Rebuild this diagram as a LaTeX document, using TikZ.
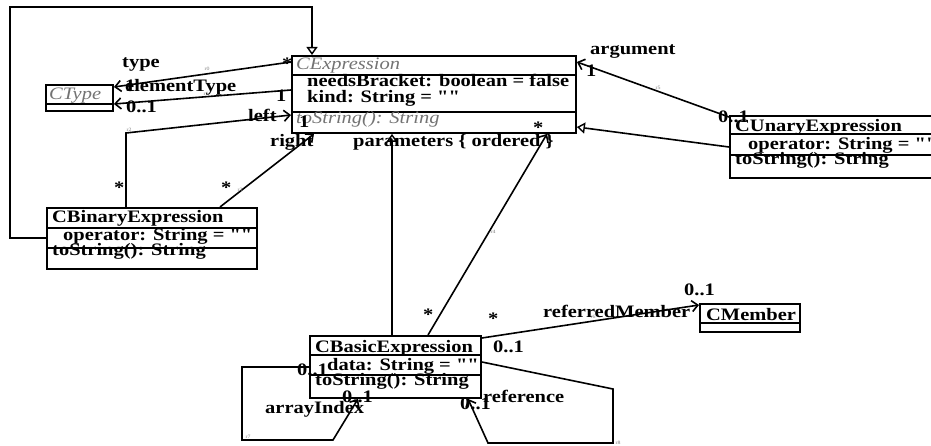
\documentclass[tikz,border=0pt]{standalone}
\usepackage{fontspec}
\setmainfont{Liberation Serif}[Ligatures=TeXOff, FakeStretch=1.17]
\usetikzlibrary{arrows.meta}

\begin{document}
\begin{tikzpicture}[x=1pt,y=-1pt,
  classbox/.style={draw, line width=1.9pt, inner sep=0pt, anchor=north west},
  sep/.style={line width=1.6pt},
  lbl/.style={anchor=base west, inner sep=0pt, font=\fontsize{17.5}{19}\selectfont\bfseries},
  abstr/.style={anchor=base west, inner sep=0pt, text=black!55, font=\fontsize{17.5}{19}\selectfont\itshape},
  tag/.style={anchor=center, inner sep=0pt, text=black!50, font=\fontsize{5}{6}\selectfont},
  assoc/.style={line width=1.6pt, -{Straight Barb[length=6pt,width=11pt,line width=1.6pt]}},
  inherit/.style={line width=1.6pt, -{Triangle[open,length=8pt,width=11pt,line width=1.4pt]}}]
\useasboundingbox (0,0) rectangle (931,446);

% ---- classes ----
\node[classbox, minimum width=284pt, minimum height=77pt] (cexp) at (291,55) {};
\draw[sep] ([yshift=-20pt]cexp.north west) -- ([yshift=-20pt]cexp.north east);
\draw[sep] ([yshift=-57pt]cexp.north west) -- ([yshift=-57pt]cexp.north east);
\node[abstr] (cexp-name) at (296,70) {CExpression};
\node[lbl] (cexp-a1) at (307,87) {needsBracket: boolean = false};
\node[lbl] (cexp-a2) at (307,103) {kind: String = ""};
\node[abstr] (cexp-m1) at (296,124) {toString(): String};

\node[classbox, minimum width=67pt, minimum height=26pt] (ctype) at (45,84) {};
\draw[sep] ([yshift=-20pt]ctype.north west) -- ([yshift=-20pt]ctype.north east);
\node[abstr] (ctype-name) at (49,100) {CType};

\node[classbox, minimum width=205pt, minimum height=62pt] (cun) at (729,115) {};
\draw[sep] ([yshift=-19pt]cun.north west) -- ([yshift=-19pt]cun.north east);
\draw[sep] ([yshift=-40pt]cun.north west) -- ([yshift=-40pt]cun.north east);
\node[lbl] (cun-name) at (735,132) {CUnaryExpression};
\node[lbl] (cun-a1) at (748,150) {operator: String = ""};
\node[lbl] (cun-m1) at (735,165) {toString(): String};

\node[classbox, minimum width=210pt, minimum height=61pt] (cbin) at (46,207) {};
\draw[sep] ([yshift=-21pt]cbin.north west) -- ([yshift=-21pt]cbin.north east);
\draw[sep] ([yshift=-41pt]cbin.north west) -- ([yshift=-41pt]cbin.north east);
\node[lbl] (cbin-name) at (52,223) {CBinaryExpression};
\node[lbl] (cbin-a1) at (63,241) {operator: String = ""};
\node[lbl] (cbin-m1) at (52,256) {toString(): String};

\node[classbox, minimum width=171pt, minimum height=62pt] (cbas) at (309,335) {};
\draw[sep] ([yshift=-20pt]cbas.north west) -- ([yshift=-20pt]cbas.north east);
\draw[sep] ([yshift=-40pt]cbas.north west) -- ([yshift=-40pt]cbas.north east);
\node[lbl] (cbas-name) at (315,352) {CBasicExpression};
\node[lbl] (cbas-a1) at (327,370) {data: String = ""};
\node[lbl] (cbas-m1) at (315,385) {toString(): String};

\node[classbox, minimum width=100pt, minimum height=28pt] (cmem) at (699,303) {};
\draw[sep] ([yshift=-20pt]cmem.north west) -- ([yshift=-20pt]cmem.north east);
\node[lbl] (cmem-name) at (706,320) {CMember};

% ---- bend points ----
\coordinate (g1a) at (10,238);
\coordinate (g1b) at (10,7);
\coordinate (g1c) at (312,7);
\coordinate (leftbend) at (126,133);
\coordinate (ai1) at (242,367);
\coordinate (ai2) at (242,440);
\coordinate (ai3) at (333,440);
\coordinate (rf1) at (613,389);
\coordinate (rf2) at (613,443);
\coordinate (rf3) at (488,443);

% ---- generalizations ----
\draw[inherit] ([yshift=-31pt]cbin.north west) -- (g1a) -- (g1b) -- (g1c) -- ([xshift=21pt]cexp.north west);
\draw[inherit] ([xshift=83pt]cbas.north west) -- ([xshift=101pt]cexp.south west);
\draw[inherit] ([yshift=-32pt]cun.north west) -- ([yshift=-72pt]cexp.north east);

% ---- associations ----
\draw[assoc] ([yshift=-7pt]cexp.north west) -- ([yshift=-3pt]ctype.north east);
\draw[assoc] ([yshift=-35pt]cexp.north west) -- ([yshift=-20pt]ctype.north east);
\draw[assoc] ([xshift=80pt]cbin.north west) -- (leftbend) -- ([yshift=-60pt]cexp.north west);
\draw[assoc] ([xshift=174pt]cbin.north west) -- ([xshift=23pt]cexp.south west);
\draw[assoc] ([xshift=119pt]cbas.north west) -- ([xshift=256pt]cexp.south west);
\draw[assoc] ([yshift=-2pt]cun.north west) -- ([yshift=-7pt]cexp.north east);
\draw[assoc] ([yshift=-3pt]cbas.north east) -- ([yshift=-2pt]cmem.north west);
\draw[assoc] ([yshift=-32pt]cbas.north west) -- (ai1) -- (ai2) -- (ai3) -- ([xshift=49pt]cbas.south west);
\draw[assoc] ([yshift=-27pt]cbas.north east) -- (rf1) -- (rf2) -- (rf3) -- ([xshift=159pt]cbas.south west);

% ---- role names and multiplicities ----
\node[lbl] (l-type) at (122,68) {type};
\node[lbl] (m-type-s) at (282,70) {*};
\node[lbl] (m-type-1) at (125,92) {1};
\node[lbl] (l-elem) at (125,92) {elementType};
\node[lbl] (m-elem-01) at (126,113) {0..1};
\node[lbl] (m-elem-1) at (276,102) {1};
\node[lbl] (l-left) at (248,122) {left};
\node[lbl] (m-left-s) at (114,194) {*};
\node[lbl] (m-right-1) at (299,128) {1};
\node[lbl] (l-right) at (270,147) {right};
\node[lbl] (m-right-s) at (221,194) {*};
\node[lbl] (l-param) at (353,147) {parameters \{ ordered \}};
\node[lbl] (m-param-s) at (533,134) {*};
\node[lbl] (m-param-s2) at (423,320) {*};
\node[lbl] (l-arg) at (590,55) {argument};
\node[lbl] (m-arg-1) at (586,77) {1};
\node[lbl] (m-arg-01) at (718,123) {0..1};
\node[lbl] (m-ref-s) at (488,324) {*};
\node[lbl] (l-refm) at (543,317) {referredMember};
\node[lbl] (m-refm-01) at (684,295) {0..1};
\node[lbl] (m-refm-01b) at (493,352) {0..1};
\node[lbl] (m-ai-01a) at (297,375) {0..1};
\node[lbl] (m-ai-01b) at (342,402) {0..1};
\node[lbl] (l-ai) at (265,413) {arrayIndex};
\node[lbl] (l-ref) at (483,402) {reference};
\node[lbl] (m-ref-01) at (460,409) {0..1};

% ---- association ids ----
\node[tag] (r0) at (207,69) {r0};
\node[tag] (r1) at (206,94) {r1};
\node[tag] (r2) at (129,130) {r2};
\node[tag] (r3) at (240,190) {r3};
\node[tag] (r4) at (493,232) {r4};
\node[tag] (r5) at (658,88) {r5};
\node[tag] (r6) at (593,317) {r6};
\node[tag] (r7) at (248,437) {r7};
\node[tag] (r8) at (618,443) {r8};
\end{tikzpicture}
\end{document}
